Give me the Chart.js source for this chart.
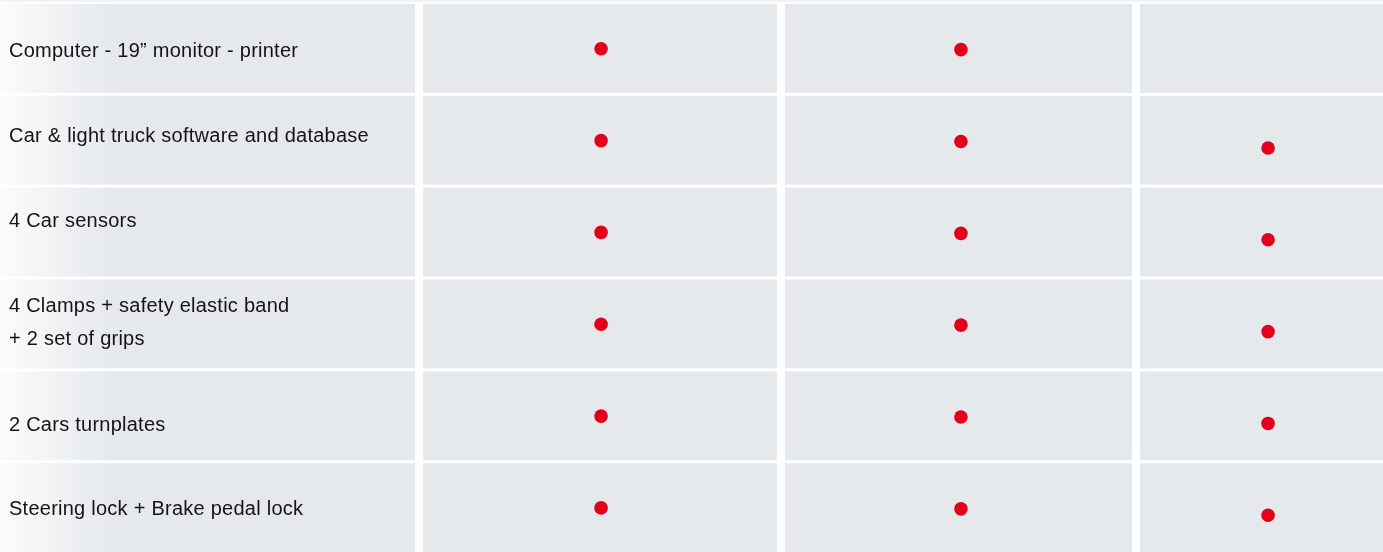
<!DOCTYPE html>
<html>
<head>
<meta charset="utf-8">
<script src="https://cdn.jsdelivr.net/npm/chart.js@4.4.1/dist/chart.umd.min.js"></script>
<style>
  html, body { margin: 0; padding: 0; background: #fff; }
</style>
</head>
<body>
<canvas id="tabla" width="1383" height="552"></canvas>
<script>
// filas de la tabla (texto de la primera columna)
const features = [
  ['Computer - 19\u201d monitor - printer'],
  ['Car & light truck software and database'],
  ['4 Car sensors'],
  ['4 Clamps + safety elastic band', '+ 2 set of grips'],
  ['2 Cars turnplates'],
  ['Steering lock + Brake pedal lock']
];

// tres versiones (columnas sin cabecera en la imagen)
const packages = ['col1', 'col2', 'col3'];

// 1 = incluido (punto rojo), 0 = no
const included = [
  [1, 1, 0],
  [1, 1, 1],
  [1, 1, 1],
  [1, 1, 1],
  [1, 1, 1],
  [1, 1, 1]
];

// --- maquetacion (no son datos) ---
const W = 1383;
const colStart = [0, 423, 785, 1140];   // inicio de cada celda, en px
const colGap = 8;
const rowGap = 3;
const dotX = [0.503, 0.507, 0.527];     // posicion horizontal del punto dentro de la celda
const dotPos = [0.52, 0.53, 0.60];      // posicion vertical del punto dentro de la fila
const textShift = [3, -4, -11, -1, 10, 2]; // ajuste vertical del texto por fila (px)
const grey = '#e5e9ec';
const red = '#e2001a';

function colRange(c) {
  const a = colStart[c];
  const b = c + 1 < colStart.length ? colStart[c + 1] - colGap : W;
  return [a, b];
}

const datasets = packages.map((p, j) => {
  const [a, b] = colRange(j + 1);
  return {
    label: p,
    data: included
      .map((r, i) => r[j] ? { x: a + (b - a) * dotX[j], y: i + dotPos[j] } : null)
      .filter(Boolean),
    backgroundColor: red,
    borderWidth: 0,
    pointRadius: 6.8,
    pointHoverRadius: 6.8
  };
});

// celdas grises y textos de la primera columna
const tablePlugin = {
  id: 'tabla',
  beforeDatasetsDraw(chart) {
    const { ctx, scales: { x, y } } = chart;
    ctx.save();
    ctx.fillStyle = '#eceef0';
    ctx.fillRect(0, 0, W, 1.5);
    for (let i = 0; i < features.length; i++) {
      const top = y.getPixelForValue(i) + rowGap;
      const bottom = y.getPixelForValue(i + 1);
      for (let c = 0; c < colStart.length; c++) {
        const [a, b] = colRange(c);
        const left = x.getPixelForValue(a);
        const right = x.getPixelForValue(b);
        if (c === 0) {
          const g = ctx.createLinearGradient(left, 0, left + 115, 0);
          g.addColorStop(0, '#fbfbfc');
          g.addColorStop(1, grey);
          ctx.fillStyle = g;
        } else {
          ctx.fillStyle = grey;
        }
        ctx.fillRect(left, top, right - left, bottom - top);
      }
      // texto
      const lines = features[i];
      const lh = 33;
      const mid = (top + bottom) / 2 + textShift[i];
      ctx.fillStyle = '#141414';
      ctx.font = '20px "Liberation Sans", Arial, sans-serif';
      ctx.letterSpacing = '0.25px';
      ctx.textBaseline = 'middle';
      ctx.textAlign = 'left';
      lines.forEach((t, k) => {
        ctx.fillText(t, 9, mid + (k - (lines.length - 1) / 2) * lh);
      });
    }
    ctx.restore();
  }
};

new Chart(document.getElementById('tabla'), {
  type: 'scatter',
  data: { datasets: datasets },
  options: {
    responsive: false,
    animation: false,
    layout: { autoPadding: false, padding: { top: 1, left: 0, right: 0, bottom: 0 } },
    scales: {
      x: { type: 'linear', min: 0, max: W, display: false },
      y: { type: 'linear', min: 0, max: features.length, reverse: true, display: false }
    },
    plugins: {
      legend: { display: false },
      tooltip: { enabled: false }
    }
  },
  plugins: [tablePlugin]
});
</script>
</body>
</html>
